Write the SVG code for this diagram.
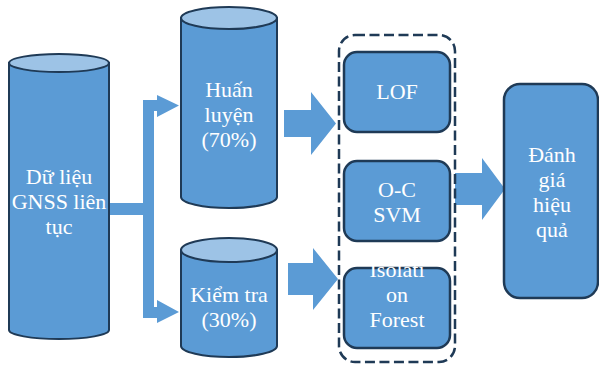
<svg xmlns="http://www.w3.org/2000/svg" width="599" height="365" viewBox="0 0 599 365">
<style>
.body{fill:#5B9BD5;stroke:#1F3A56;stroke-width:2}
.top{fill:#9DC3E6;stroke:#1F3A56;stroke-width:2}
.box{fill:#5B9BD5;stroke:#1F3A56;stroke-width:2.5}
.arr{fill:#5B9BD5;stroke:none}
.t{font-family:"Liberation Serif","Times New Roman",serif;font-size:22px;fill:#FFFFFF;text-anchor:middle}
</style>
<rect width="599" height="365" fill="#FFFFFF"/>
<g id="connectors">
<path class="arr" d="M143,100 L157,100 L157,95 L179,105.5 L157,117 L157,111 L154,111 L154,307 L157,307 L157,300 L179,312 L157,323 L157,318 L143,318 L143,215 L109,215 L109,203 L143,203 Z"/>
<path class="arr" d="M284,110 L311,110 L311,92 L336,123.5 L311,155 L311,137 L284,137 Z"/>
<path class="arr" d="M288,263 L313,263 L313,248 L338,279 L313,310 L313,295 L288,295 Z"/>
<path class="arr" d="M455,173 L482,173 L482,158 L505,189 L482,220 L482,205 L455,205 Z"/>
</g>
<g id="gnss">
<path class="body" d="M9,63 L9,330 A50,9 0 0 0 109,330 L109,63 Z"/>
<ellipse class="top" cx="59" cy="63" rx="50" ry="9"/>
<text class="t" x="59" y="184">Dữ liệu</text>
<text class="t" x="59" y="209">GNSS liên</text>
<text class="t" x="59" y="234">tục</text>
</g>
<g id="train">
<path class="body" d="M181,18 L181,197 A48,11 0 0 0 277,197 L277,18 Z"/>
<ellipse class="top" cx="229" cy="18" rx="48" ry="11"/>
<text class="t" x="229" y="97">Huấn</text>
<text class="t" x="229" y="122">luyện</text>
<text class="t" x="229" y="147">(70%)</text>
</g>
<g id="test">
<path class="body" d="M181,250 L181,346 A48,11 0 0 0 277,346 L277,250 Z"/>
<ellipse class="top" cx="229" cy="250" rx="48" ry="12"/>
<text class="t" x="229" y="302">Kiểm tra</text>
<text class="t" x="229" y="327">(30%)</text>
</g>
<g id="models">
<rect x="339" y="35" width="116" height="327" rx="16" fill="none" stroke="#1F3A56" stroke-width="2.5" stroke-dasharray="10,4.5"/>
</g>
<g id="lof">
<rect class="box" x="344" y="52" width="106" height="80" rx="13"/>
<text class="t" x="397" y="99">LOF</text>
</g>
<g id="ocsvm">
<rect class="box" x="344" y="161" width="106" height="80" rx="13"/>
<text class="t" x="397" y="197">O-C</text>
<text class="t" x="397" y="222">SVM</text>
</g>
<g id="iforest">
<rect class="box" x="344" y="268" width="106" height="80" rx="13"/>
<text class="t" x="397" y="277">Isolati</text>
<text class="t" x="397" y="302">on</text>
<text class="t" x="397" y="327">Forest</text>
</g>
<g id="eval">
<rect class="box" x="504" y="84" width="94" height="214" rx="16"/>
<text class="t" x="552" y="162">Đánh</text>
<text class="t" x="552" y="187">giá</text>
<text class="t" x="552" y="212">hiệu</text>
<text class="t" x="552" y="237">quả</text>
</g>
</svg>
